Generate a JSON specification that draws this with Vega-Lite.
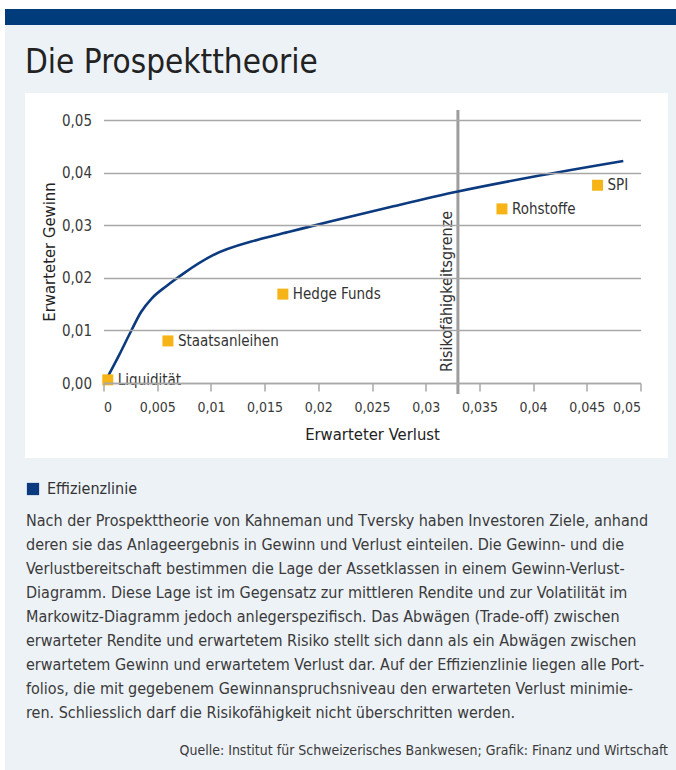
{
  "$schema": "https://vega.github.io/schema/vega-lite/v6.json",
  "autosize": {"type": "none"},
  "width": 537,
  "height": 263,
  "padding": {"left": 103.5, "top": 120, "right": 35.5, "bottom": 387},
  "background": "#ffffff",
  "config": {
    "view": {"stroke": null},
    "font": "DejaVu Sans Condensed, DejaVu Sans",
    "locale": {"number": {"decimal": ",", "thousands": ".", "grouping": [3], "currency": ["", " €"]}},
    "text": {"font": "DejaVu Sans Condensed, DejaVu Sans"}
  },
  "datasets": {
    "curve": [
      {"verlust": 0.0004, "gewinn": 0.0012, "serie": "Effizienzlinie"},
      {"verlust": 0.0015, "gewinn": 0.0055, "serie": "Effizienzlinie"},
      {"verlust": 0.0025, "gewinn": 0.0096, "serie": "Effizienzlinie"},
      {"verlust": 0.0035, "gewinn": 0.0135, "serie": "Effizienzlinie"},
      {"verlust": 0.0045, "gewinn": 0.0161, "serie": "Effizienzlinie"},
      {"verlust": 0.0059, "gewinn": 0.0185, "serie": "Effizienzlinie"},
      {"verlust": 0.0075, "gewinn": 0.0209, "serie": "Effizienzlinie"},
      {"verlust": 0.0102, "gewinn": 0.0243, "serie": "Effizienzlinie"},
      {"verlust": 0.0143, "gewinn": 0.0272, "serie": "Effizienzlinie"},
      {"verlust": 0.0174, "gewinn": 0.0288, "serie": "Effizienzlinie"},
      {"verlust": 0.0211, "gewinn": 0.0307, "serie": "Effizienzlinie"},
      {"verlust": 0.027, "gewinn": 0.0336, "serie": "Effizienzlinie"},
      {"verlust": 0.033, "gewinn": 0.0364, "serie": "Effizienzlinie"},
      {"verlust": 0.040, "gewinn": 0.0392, "serie": "Effizienzlinie"},
      {"verlust": 0.0484, "gewinn": 0.0422, "serie": "Effizienzlinie"}
    ],
    "assets": [
      {"name": "Liquidität", "verlust": 0.0004, "gewinn": 0.0006},
      {"name": "Staatsanleihen", "verlust": 0.006, "gewinn": 0.008},
      {"name": "Hedge Funds", "verlust": 0.0167, "gewinn": 0.0169},
      {"name": "Rohstoffe", "verlust": 0.0371, "gewinn": 0.0331},
      {"name": "SPI", "verlust": 0.046, "gewinn": 0.0376}
    ],
    "grenze": [{"verlust": 0.033, "label": "Risikofähigkeitsgrenze"}],
    "titel": [{"text": "Die Prospekttheorie"}],
    "quelle": [{"text": "Quelle: Institut für Schweizerisches Bankwesen; Grafik: Finanz und Wirtschaft"}],
    "absatz": [{"text": "Nach der Prospekttheorie von Kahneman und Tversky haben Investoren Ziele, anhand\nderen sie das Anlageergebnis in Gewinn und Verlust einteilen. Die Gewinn- und die\nVerlustbereitschaft bestimmen die Lage der Assetklassen in einem Gewinn-Verlust-\nDiagramm. Diese Lage ist im Gegensatz zur mittleren Rendite und zur Volatilität im\nMarkowitz-Diagramm jedoch anlegerspezifisch. Das Abwägen (Trade-off) zwischen\nerwarteter Rendite und erwartetem Risiko stellt sich dann als ein Abwägen zwischen\nerwartetem Gewinn und erwartetem Verlust dar. Auf der Effizienzlinie liegen alle Port-\nfolios, die mit gegebenem Gewinnanspruchsniveau den erwarteten Verlust minimie-\nren. Schliesslich darf die Risikofähigkeit nicht überschritten werden."}]
  },
  "layer": [
    {
      "data": {"values": [{}]},
      "mark": {"type": "rect", "color": "#edf2f7", "clip": false},
      "encoding": {
        "x": {"datum": -0.009171, "type": "quantitative", "scale": {"domain": [0, 0.05], "nice": false, "zero": false}},
        "x2": {"datum": 0.053305},
        "y": {"datum": 0.071103, "type": "quantitative", "scale": {"domain": [0, 0.05], "nice": false, "zero": false}},
        "y2": {"datum": -0.073574}
      }
    },
    {
      "data": {"values": [{}]},
      "mark": {"type": "rect", "color": "#003b7c", "clip": false},
      "encoding": {
        "x": {"datum": -0.009171, "type": "quantitative"},
        "x2": {"datum": 0.053305},
        "y": {"datum": 0.071103, "type": "quantitative"},
        "y2": {"datum": 0.068061}
      }
    },
    {
      "data": {"values": [{}]},
      "mark": {"type": "rect", "color": "#ffffff", "clip": false},
      "encoding": {
        "x": {"datum": -0.007309, "type": "quantitative"},
        "x2": {"datum": 0.052561},
        "y": {"datum": 0.055133, "type": "quantitative"},
        "y2": {"datum": -0.014259}
      }
    },
    {
      "data": {"name": "titel"},
      "mark": {"type": "text", "align": "left", "baseline": "alphabetic", "fontSize": 33, "color": "#222222"},
      "encoding": {
        "x": {"datum": -0.007309, "type": "quantitative"},
        "y": {"datum": 0.058935, "type": "quantitative"},
        "text": {"field": "text"}
      }
    },
    {
      "data": {"name": "grenze"},
      "mark": {"type": "rule", "color": "#9d9d9d", "strokeWidth": 3},
      "encoding": {
        "x": {"field": "verlust", "type": "quantitative"},
        "y": {"datum": 0.0519, "type": "quantitative"},
        "y2": {"datum": -0.00209}
      }
    },
    {
      "data": {"name": "grenze"},
      "mark": {"type": "text", "angle": 270, "align": "left", "baseline": "alphabetic", "fontSize": 16, "color": "#333333", "dy": -6},
      "encoding": {
        "x": {"field": "verlust", "type": "quantitative"},
        "y": {"datum": 0.0021, "type": "quantitative"},
        "text": {"field": "label"}
      }
    },
    {
      "data": {"name": "curve"},
      "mark": {"type": "line", "strokeWidth": 2.6, "interpolate": "monotone"},
      "encoding": {
        "x": {"field": "verlust", "type": "quantitative",
          "axis": {"title": "Erwarteter Verlust", "values": [0, 0.005, 0.01, 0.015, 0.02, 0.025, 0.03, 0.035, 0.04, 0.045, 0.05],
            "format": "~g", "grid": false, "zindex": 1, "domainColor": "#a8a8a8", "domainWidth": 1.5,
            "tickColor": "#a8a8a8", "tickWidth": 1.5, "tickSize": 8, "labelFontSize": 14, "labelColor": "#3a3a3a",
            "labelPadding": 9, "titleFontSize": 16.5, "titleFontWeight": "normal", "titleColor": "#222222", "titlePadding": 12}},
        "y": {"field": "gewinn", "type": "quantitative",
          "axis": {"title": "Erwarteter Gewinn", "values": [0, 0.01, 0.02, 0.03, 0.04, 0.05], "format": ".2f",
            "grid": true, "gridColor": "#a8a8a8", "gridWidth": 1.5, "domain": false, "ticks": false, "zindex": 1,
            "labelFontSize": 15, "labelColor": "#3a3a3a", "labelPadding": 12,
            "titleFontSize": 16.5, "titleFontWeight": "normal", "titleColor": "#222222", "titlePadding": 4}},
        "color": {"field": "serie", "type": "nominal",
          "scale": {"domain": ["Effizienzlinie"], "range": ["#0c3a7e"]},
          "legend": {"orient": "none", "legendX": -78.5, "legendY": 361, "title": null, "zindex": 1,
            "symbolType": "square", "symbolSize": 150, "symbolFillColor": "#0c3a7e", "symbolStrokeWidth": 0,
            "labelFontSize": 16, "labelColor": "#333333", "labelOffset": 6,
            "encode": {"symbols": {"update": {"fill": {"value": "#0c3a7e"}, "strokeWidth": {"value": 0}}}}}}
      }
    },
    {
      "data": {"name": "assets"},
      "mark": {"type": "point", "shape": "square", "filled": true, "size": 121, "color": "#f7b416", "opacity": 1},
      "encoding": {
        "x": {"field": "verlust", "type": "quantitative"},
        "y": {"field": "gewinn", "type": "quantitative"}
      }
    },
    {
      "data": {"name": "assets"},
      "mark": {"type": "text", "align": "left", "baseline": "middle", "dx": 10, "fontSize": 15, "color": "#333333"},
      "encoding": {
        "x": {"field": "verlust", "type": "quantitative"},
        "y": {"field": "gewinn", "type": "quantitative"},
        "text": {"field": "name"}
      }
    },
    {
      "data": {"name": "absatz"},
      "mark": {"type": "text", "align": "left", "baseline": "alphabetic", "fontSize": 16, "lineHeight": 24, "lineBreak": "\n", "color": "#3a3a3a"},
      "encoding": {
        "x": {"datum": -0.007216, "type": "quantitative"},
        "y": {"datum": -0.027186, "type": "quantitative"},
        "text": {"field": "text"}
      }
    },
    {
      "data": {"name": "quelle"},
      "mark": {"type": "text", "align": "right", "baseline": "alphabetic", "fontSize": 14, "color": "#3a3a3a"},
      "encoding": {
        "x": {"datum": 0.052561, "type": "quantitative"},
        "y": {"datum": -0.0707, "type": "quantitative"},
        "text": {"field": "text"}
      }
    }
  ]
}
